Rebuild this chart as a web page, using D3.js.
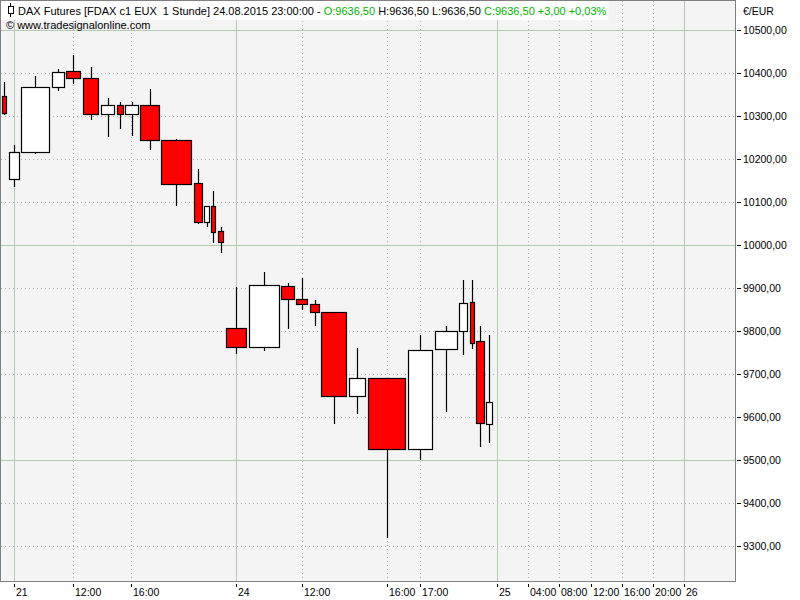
<!DOCTYPE html>
<html><head><meta charset="utf-8">
<script src="https://cdn.jsdelivr.net/npm/d3@7/dist/d3.min.js"></script>
<style>
html,body{margin:0;padding:0;background:#fff;}
svg{display:block;font-family:"Liberation Sans",Arial,sans-serif;}
text{white-space:pre;}
</style></head>
<body><svg id="c" width="800" height="600"></svg>
<script>
// ---- data (hourly bars, equivolume: bar width ~ volume) ----
const categories = [
  "20.08. 22:00",
  "21.08. 09:00","21.08. 10:00","21.08. 11:00","21.08. 12:00","21.08. 13:00","21.08. 14:00","21.08. 15:00",
  "21.08. 16:00","21.08. 17:00","21.08. 18:00","21.08. 19:00","21.08. 20:00","21.08. 21:00","21.08. 22:00",
  "24.08. 09:00","24.08. 10:00","24.08. 11:00","24.08. 12:00","24.08. 13:00","24.08. 14:00","24.08. 15:00",
  "24.08. 16:00","24.08. 17:00","24.08. 18:00","24.08. 19:00","24.08. 20:00","24.08. 21:00","24.08. 22:00"
];
const openValues  = [10347,10154,10216,10367,10404,10388,10304,10327,10304,10325,10244,10144,10053,10091,10032,
                     9806,9762,9904,9874,9862,9843,9648,9690,9525,9757,9799,9867,9776,9583];
const highValues  = [10379,10233,10393,10410,10442,10415,10342,10332,10332,10363,10246,10177,10092,10126,10043,
                     9902,9937,9911,9923,9871,9844,9760,9691,9791,9812,9919,9919,9812,9791];
const lowValues   = [10303,10135,10212,10359,10374,10291,10252,10271,10254,10222,10091,10050,10043,10005,9981,
                     9747,9754,9805,9849,9812,9584,9607,9317,9500,9612,9745,9759,9531,9540];
const closeValues = [10307,10216,10367,10402,10388,10306,10325,10304,10327,10244,10141,10053,10091,10031,10008,
                     9762,9906,9874,9862,9843,9648,9690,9525,9755,9801,9864,9771,9585,9633.5];
const volumeValues = [6.5,12.3,30.5,14.5,16.7,17.8,16.0,8.5,15.0,21.0,32.5,10.5,7.0,6.5,8.0,
                      22.7,32.8,15.0,13.5,11.5,27.0,19.0,40.5,26.5,24.5,10.5,6.5,10.0,8.0];
// x-axis labels on bars (bar index -> label), major = day start
const barTickIndex  = [1,4,8,15,18,22,23];
const barTickLabels = ["21","12:00","16:00","24","12:00","16:00","17:00"];
const barTickMajor  = [true,false,false,true,false,false,false];
// empty future hours after last bar
const futureHours = 31;
const futureHourVolume = 7.8;
const futureTickHour   = [0,4,8,12,16,20,24];
const futureTickLabels = ["25","04:00","08:00","12:00","16:00","20:00","26"];
const futureTickMajor  = [true,false,false,false,false,false,true];
const yTicks = [9300,9400,9500,9600,9700,9800,9900,10000,10100,10200,10300,10400,10500];
const yMajor = [9500,10000,10500];
const headerTitle = "DAX Futures [FDAX c1 EUX  1 Stunde] 24.08.2015 23:00:00 - ";
const headerO = "O:9636,50";
const headerHL = " H:9636,50 L:9636,50 ";
const headerC = "C:9636,50 +3,00 +0,03%";
const copyright = "\u00A9 www.tradesignalonline.com";
const currency = "\u20AC/EUR";

// ---- layout ----
const L = 0, T = 0, R = 735, B = 581;
const svg = d3.select("#c");
const cum = [0];
volumeValues.forEach((v,i)=>cum.push(cum[i]+v));
const totalVol = cum[cum.length-1];
const x = d3.scaleLinear().domain([0, totalVol + futureHours*futureHourVolume]).range([L+1, R]);
const y = d3.scaleLinear().domain([9218, 10568]).range([B, T+1]);
const loc = d3.formatLocale({decimal:",", thousands:"", grouping:[3], currency:["","€"]});
const fmt = loc.format(".2f");

svg.append("rect").attr("x",L+0.5).attr("y",T+0.5).attr("width",R-L).attr("height",B-T)
  .attr("fill","#f4f4f4").attr("stroke","#808080");

const grid = svg.append("g");
// horizontal grid
yTicks.forEach(v=>{
  const yy = Math.round(y(v))+0.5;
  const maj = yMajor.includes(v);
  grid.append("line").attr("x1",L+1).attr("x2",R).attr("y1",yy).attr("y2",yy)
    .attr("stroke", maj ? "#b4c8b4" : "#a8b2a8").attr("stroke-dasharray", maj ? null : "1,3");
});
// collect x ticks
const xt = [];
barTickIndex.forEach((idx,k)=>xt.push({pos:(cum[idx]+cum[idx+1])/2, label:barTickLabels[k], major:barTickMajor[k]}));
futureTickHour.forEach((h,k)=>xt.push({pos: totalVol + (h+0.5)*futureHourVolume, label:futureTickLabels[k], major:futureTickMajor[k]}));
xt.forEach(t=>{
  const xx = Math.round(x(t.pos))+0.5;
  grid.append("line").attr("x1",xx).attr("x2",xx).attr("y1",T+1).attr("y2",B)
    .attr("stroke", t.major ? "#b4c8b4" : "#a8b2a8").attr("stroke-dasharray", t.major ? null : "1,3");
});

// header (drawn before candles, white background)
const hdr = svg.append("g");
const hbg = hdr.append("rect").attr("x",1).attr("y",1).attr("height",19).attr("fill","#ffffff");
const ht = hdr.append("text").attr("x",18).attr("y",15).attr("font-size","11px").attr("fill","#000");
ht.append("tspan").text(headerTitle);
ht.append("tspan").attr("fill","#00b400").text(headerO);
ht.append("tspan").text(headerHL);
ht.append("tspan").attr("fill","#00b400").text(headerC);
hbg.attr("width", ht.node().getComputedTextLength()+19);
hdr.append("line").attr("x1",10.5).attr("x2",10.5).attr("y1",3).attr("y2",17).attr("stroke","#000");
hdr.append("rect").attr("x",8.5).attr("y",6.5).attr("width",5).attr("height",7).attr("fill","#fff").attr("stroke","#000");
hdr.append("text").attr("x",6).attr("y",29).attr("font-size","11px").attr("fill","#000").text(copyright);

// candles
const cg = svg.append("g");
categories.forEach((c,i)=>{
  const x0 = x(cum[i]), x1 = x(cum[i+1]);
  let left = Math.round(x0+1.3), right = Math.round(x1-1.3);
  if (right-left < 4) right = left+4;
  const cx = Math.round((left+right)/2)+0.5;
  cg.append("line").attr("x1",cx).attr("x2",cx)
    .attr("y1",Math.round(y(highValues[i]))).attr("y2",Math.round(y(lowValues[i])))
    .attr("stroke","#000").attr("stroke-width",1.2);
  const up = closeValues[i] >= openValues[i];
  const top = Math.round(y(Math.max(openValues[i],closeValues[i])));
  const bot = Math.round(y(Math.min(openValues[i],closeValues[i])));
  cg.append("rect").attr("x",left+0.5).attr("y",top+0.5).attr("width",right-left).attr("height",Math.max(1,bot-top))
    .attr("fill", up ? "#ffffff" : "#ff0000").attr("stroke","#000").attr("stroke-width",1.2);
});

// right axis
const ra = svg.append("g");
yTicks.forEach(v=>{
  const yy = Math.round(y(v))+0.5;
  ra.append("line").attr("x1",R+2).attr("x2",R+6).attr("y1",yy).attr("y2",yy).attr("stroke","#000");
  ra.append("text").attr("x",R+8).attr("y",yy).attr("dy","0.35em").attr("font-size","10.5px").attr("fill","#000").text(fmt(v));
});
ra.append("text").attr("x",R+8).attr("y",15).attr("font-size","10.5px").attr("fill","#000").text(currency);

// bottom axis
const ba = svg.append("g");
xt.forEach(t=>{
  const xx = Math.round(x(t.pos))+0.5;
  ba.append("line").attr("x1",xx).attr("x2",xx).attr("y1",B+3).attr("y2",B+6).attr("stroke","#000");
  ba.append("text").attr("x",xx+1.5).attr("y",B+15).attr("font-size","10.5px").attr("fill","#000").text(t.label);
});
</script></body></html>
